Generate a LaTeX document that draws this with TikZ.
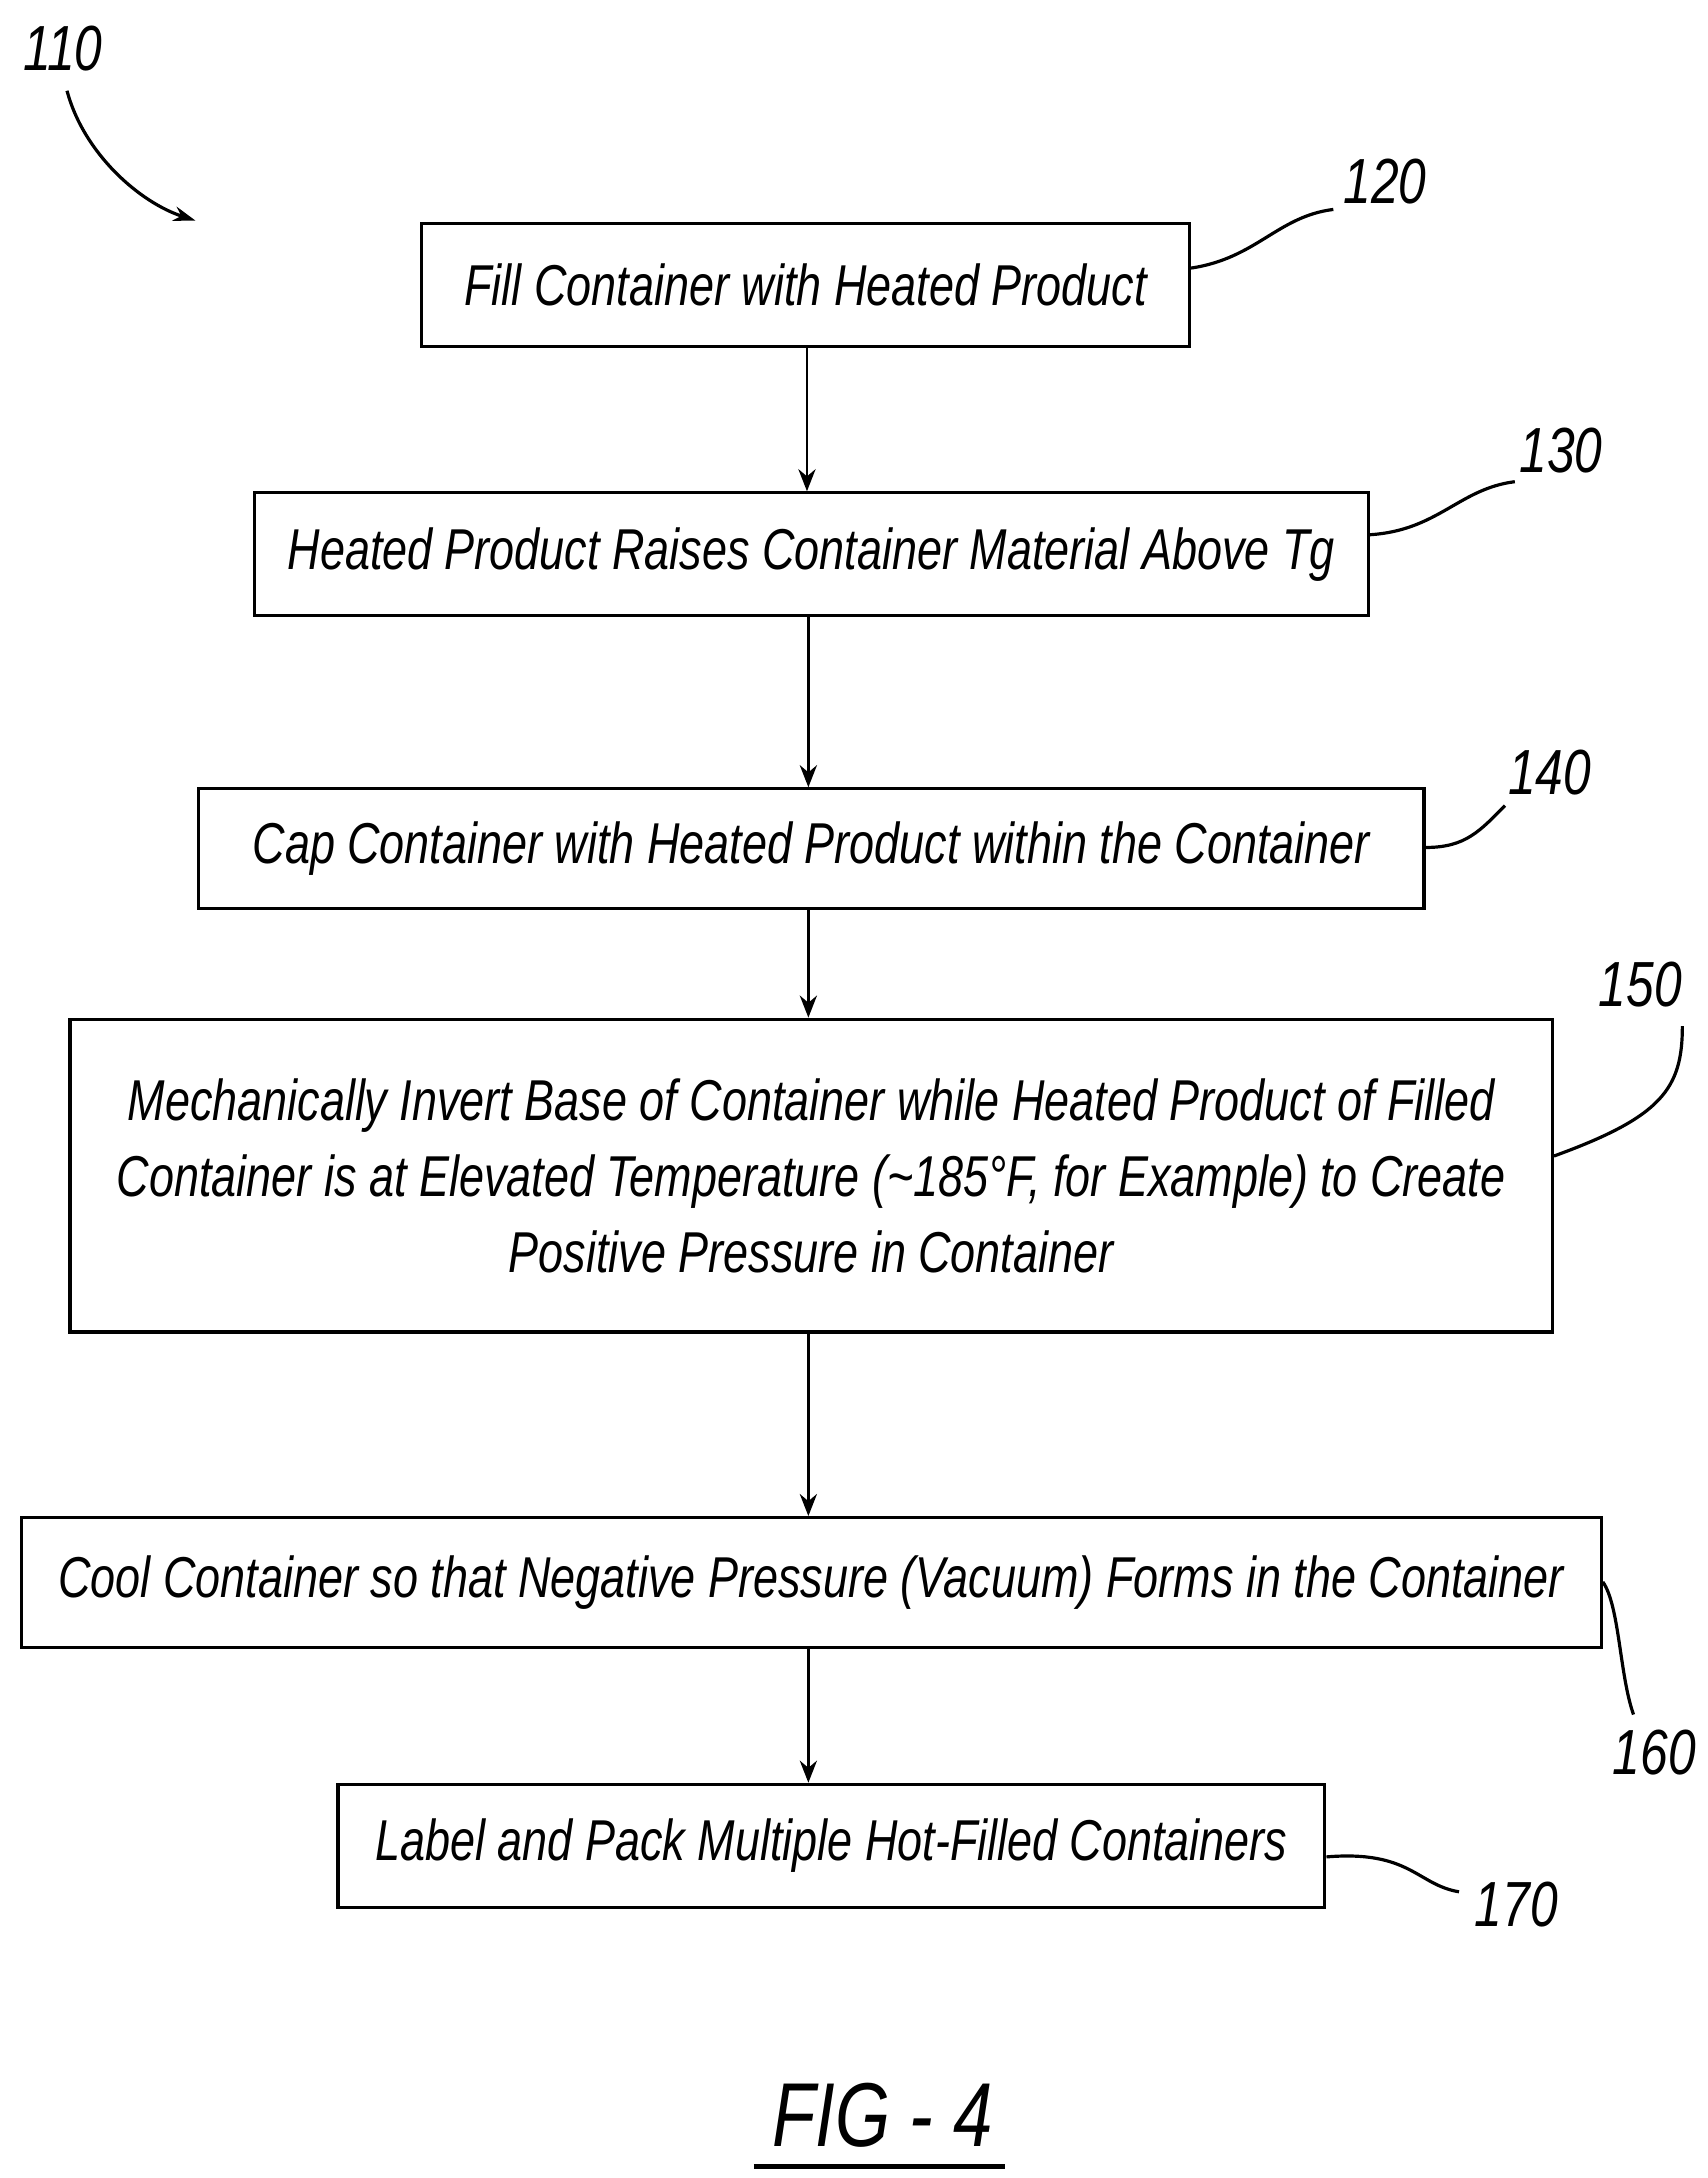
\documentclass[tikz,border=0pt]{standalone}
\usepackage{fontspec}
\setmainfont{Liberation Sans}[FakeStretch=0.78]
\usetikzlibrary{arrows.meta}
\begin{document}
\begin{tikzpicture}[x=0.02cm,y=-0.02cm,
  box/.style={draw,line width=1.3pt,inner sep=0pt,align=center,font=\fontsize{23.5}{31}\selectfont\itshape},
  lbl/.style={font=\fontsize{26}{28}\selectfont\itshape,inner sep=1pt},
  arr/.style={line width=1.1pt,-{Stealth[length=9pt,width=7pt]}},
  lead/.style={line width=1.3pt}]
\useasboundingbox (0,0) rectangle (1223,1560);
\node[box,minimum width=11cm,minimum height=1.76cm] (b120) at (577,204) {Fill Container with Heated Product};
\node[box,minimum width=15.96cm,minimum height=1.76cm] (b130) at (581,397) {Heated Product Raises Container Material Above Tg};
\node[box,minimum width=17.56cm,minimum height=1.72cm] (b140) at (581,608) {Cap Container with Heated Product within the Container};
\node[box,minimum width=21.24cm,minimum height=4.48cm] (b150) at (581,842) {Mechanically Invert Base of Container while Heated Product of Filled\\Container is at Elevated Temperature (\textasciitilde185\textdegree F, for Example) to Create\\Positive Pressure in Container};
\node[box,minimum width=22.64cm,minimum height=1.86cm] (b160) at (581,1133.5) {Cool Container so that Negative Pressure (Vacuum) Forms in the Container};
\node[box,minimum width=14.14cm,minimum height=1.76cm] (b170) at (595.5,1322) {Label and Pack Multiple Hot-Filled Containers};
\coordinate (x120) at (578,248);
\draw[arr] (x120) -- (x120 |- b130.north);
\coordinate (x130) at (579,441);
\draw[arr] (x130) -- (x130 |- b140.north);
\coordinate (x140) at (579,651);
\draw[arr] (x140) -- (x140 |- b150.north);
\coordinate (x150) at (579,954);
\draw[arr] (x150) -- (x150 |- b160.north);
\coordinate (x160) at (579,1180);
\draw[arr] (x160) -- (x160 |- b170.north);
\node[lbl] (l110) at (45,35) {110};
\node[lbl] (l120) at (992,130) {120};
\node[lbl] (l130) at (1118,323) {130};
\node[lbl] (l140) at (1110,553) {140};
\node[lbl] (l150) at (1175,705) {150};
\node[lbl] (l160) at (1185,1255) {160};
\node[lbl] (l170) at (1086,1364) {170};
\coordinate (t110) at (140,158);
\draw[lead,-{Stealth[length=9pt,width=6pt]}] (48,65) .. controls (60,110) and (100,145) .. (t110);
\draw[lead] (b120.east |- 0,192) .. controls (900,185) and (915,155) .. (955,150);
\draw[lead] (b130.east |- 0,383) .. controls (1030,380) and (1045,350) .. (1085,345);
\draw[lead] (b140.east |- 0,607) .. controls (1050,607) and (1060,595) .. (1078,577);
\draw[lead] (b150.east |- 0,828) .. controls (1190,800) and (1205,780) .. (1205,735);
\draw[lead] (b160.east |- 0,1133) .. controls (1160,1150) and (1160,1200) .. (1170,1228);
\draw[lead] (b170.east |- 0,1330) .. controls (1010,1325) and (1015,1350) .. (1045,1355);
\node[font=\fontsize{37}{40}\selectfont\itshape] (fig) at (632,1515) {FIG - 4};
\draw[line width=2pt] (540,1552) -- (720,1552);
\end{tikzpicture}
\end{document}
